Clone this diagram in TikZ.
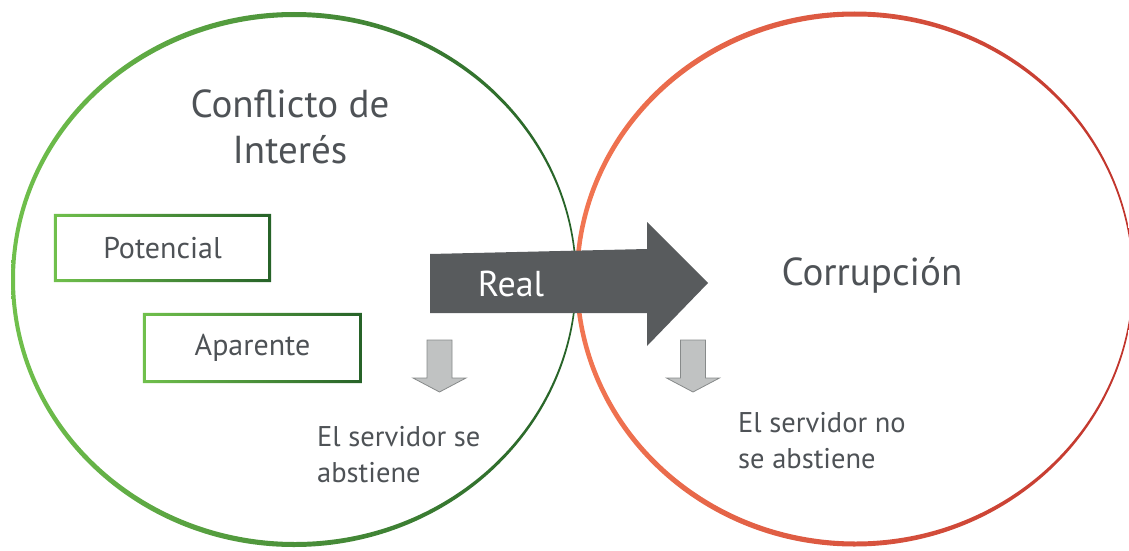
\documentclass[tikz,border=0pt]{standalone}
\usepackage{fontspec}
\setmainfont{PT Sans}
\usepackage{tikz}

\definecolor{lightgreen}{RGB}{112,192,76}
\definecolor{midgreen}{RGB}{80,160,60}
\definecolor{darkgreen}{RGB}{38,98,40}
\definecolor{lightorange}{RGB}{242,118,82}
\definecolor{midorange}{RGB}{226,90,62}
\definecolor{darkred}{RGB}{192,52,44}
\definecolor{realgray}{RGB}{88,91,93}
\definecolor{downgray}{RGB}{192,194,194}
\definecolor{downline}{RGB}{135,138,138}
\definecolor{textgray}{RGB}{78,82,86}

\tikzstyle{greenring} = [even odd rule, left color=lightgreen, middle color=midgreen, right color=darkgreen]
\tikzstyle{redring}   = [even odd rule, left color=lightorange, middle color=midorange, right color=darkred]
\tikzstyle{greenbox}  = [even odd rule, left color=lightgreen, right color=darkgreen]
\tikzstyle{titletxt}  = [text=textgray, font=\fontsize{39}{46}\selectfont, inner sep=0pt]
\tikzstyle{bodytxt}   = [text=textgray, font=\fontsize{28.5}{36}\selectfont, inner sep=0pt, align=left, anchor=west]
\tikzstyle{boxnode}   = [text=textgray, font=\fontsize{30}{34}\selectfont, inner sep=0pt]
\tikzstyle{realtxt}   = [text=white, font=\fontsize{36}{40}\selectfont, inner sep=0pt]
\tikzset{downarrow/.pic={
  \filldraw[fill=downgray, draw=downline, line width=0.8pt]
    (-12.5,0) -- (12.5,0) -- (12.5,38) -- (26.5,38) -- (0,52) -- (-26.5,38) -- (-12.5,38) -- cycle;
}}

\begin{document}
\begin{tikzpicture}[x=1pt, y=-1pt]
	\useasboundingbox (0,0) rectangle (1129,551);
	
	% the two rings
	\shade[greenring] (293.9,279.5) ellipse [x radius=282.9pt, y radius=267.5pt]
	                  (295.1,279.5) ellipse [x radius=280.1pt, y radius=262.5pt];
	\shade[redring]   (854.3,279) ellipse [x radius=279.5pt, y radius=267.5pt]
	                  (855.8,279) ellipse [x radius=276.5pt, y radius=262.5pt];
	
	% boxes
	\node[boxnode, minimum width=217pt, minimum height=68pt] (potencial) at (162.5,248) {Potencial};
	\node[boxnode, minimum width=219pt, minimum height=70pt] (aparente)  at (252.5,348) {Aparente};
	\foreach \b in {potencial, aparente}
		\shade[greenbox] (\b.south west) rectangle (\b.north east)
		  ([shift={(3pt,3pt)}]\b.south west) rectangle ([shift={(-3pt,-3pt)}]\b.north east);
	
	% big arrow
	\fill[realgray] (430,254) -- (647,249) -- (647,222) -- (708,283) -- (647,346) -- (647,313) -- (430,313) -- cycle;
	\node[realtxt] (real) at (511,284) {Real};
	
	% small arrows
	\pic at (439.5,340) {downarrow};
	\pic at (693,340) {downarrow};
	
	% texts
	\node[titletxt, align=center] (conflicto)  at (290,127)   {Conflicto de\\Interés};
	\node[titletxt]               (corrupcion) at (872,275)   {Corrupción};
	\node[bodytxt]                (abstiene)   at (317,455)   {El servidor se\\abstiene};
	\node[bodytxt]                (noabstiene) at (738,440.5) {El servidor no\\se abstiene};
\end{tikzpicture}
\end{document}
